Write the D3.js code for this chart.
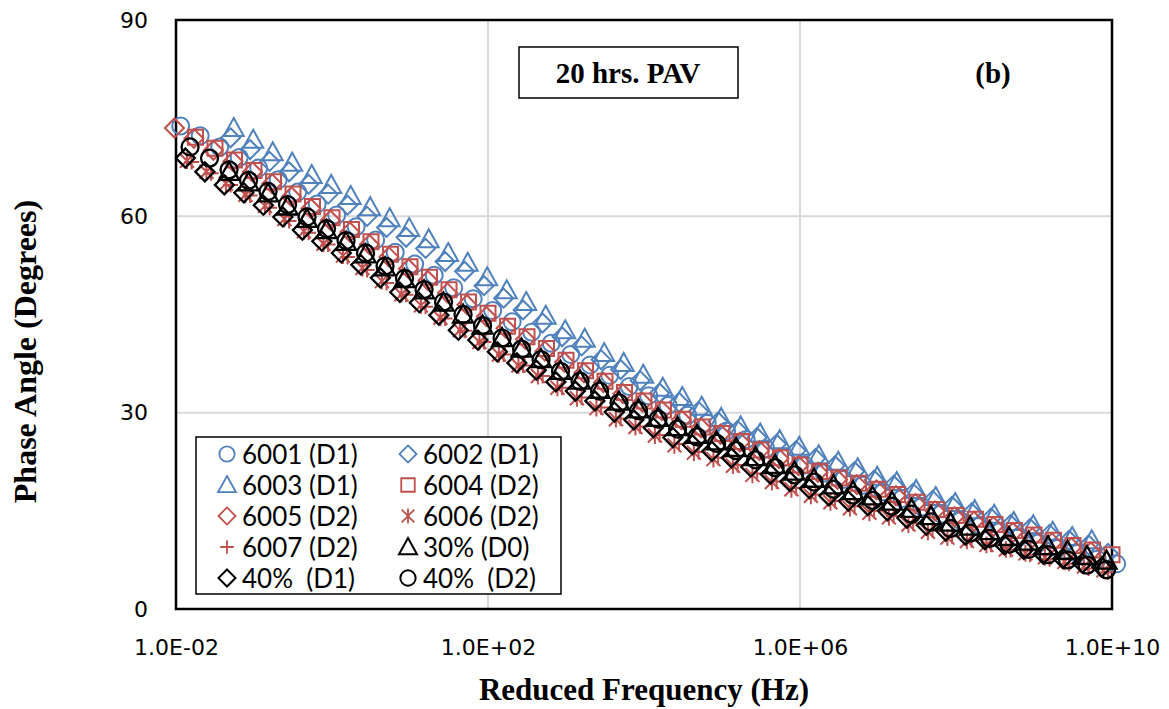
<!DOCTYPE html>
<html>
<head>
<meta charset="utf-8">
<script src="https://cdn.jsdelivr.net/npm/d3@7"></script>
<style>
    body { margin: 0; background: #fff; }
    svg { display: block; }
</style>
</head>
<body>
<div id="chart"></div>
<script>
// log10 of reduced frequency (Hz) and phase angle (degrees) for each binder.
const logF6001 = [-1.94,-1.69,-1.44,-1.19,-0.94,-0.69,-0.44,-0.19,0.06,0.31,0.56,0.81,1.06,1.31,1.56,1.81,2.06,2.31,2.56,2.81,3.06,3.31,3.56,3.81,4.06,4.31,4.56,4.81,5.06,5.31,5.56,5.81,6.06,6.31,6.56,6.81,7.06,7.31,7.56,7.81,8.06,8.31,8.56,8.81,9.06,9.31,9.56,9.81,10.06];
const phase6001 = [73.8,72.3,70.6,69.0,67.4,65.6,63.7,61.9,60.2,58.4,56.4,54.5,52.7,51.0,49.1,47.4,45.6,43.9,42.3,40.6,38.9,37.3,35.7,34.0,32.6,31.1,29.6,28.4,27.2,25.9,24.5,23.2,22.0,20.8,19.8,18.9,17.9,16.9,15.6,14.5,13.5,12.8,11.8,11.0,10.1,9.3,8.5,7.6,6.9];

const logF6002 = [-1.30,-1.05,-0.80,-0.55,-0.30,-0.05,0.20,0.45,0.70,0.95,1.20,1.45,1.70,1.95,2.20,2.45,2.70,2.95,3.20,3.45,3.70,3.95,4.20,4.45,4.70,4.95,5.20,5.45,5.70,5.95,6.20,6.45,6.70,6.95,7.20,7.45,7.70,7.95,8.20,8.45,8.70,8.95,9.20,9.45,9.70,9.95];
const phase6002 = [72.0,70.2,68.4,66.8,64.9,63.4,61.7,60.0,58.3,56.8,55.1,53.1,51.6,49.4,47.5,45.7,43.7,41.6,40.2,38.1,36.6,34.9,33.0,31.6,30.2,28.6,27.3,26.2,25.2,24.2,23.0,21.9,21.0,19.7,18.9,17.7,16.6,15.7,14.7,13.9,12.9,12.3,11.4,10.5,9.8,8.5];

const logF6003 = [-1.26,-1.01,-0.76,-0.51,-0.26,-0.01,0.24,0.49,0.74,0.99,1.24,1.49,1.74,1.99,2.24,2.49,2.74,2.99,3.24,3.49,3.74,3.99,4.24,4.49,4.74,4.99,5.24,5.49,5.74,5.99,6.24,6.49,6.74,6.99,7.24,7.49,7.74,7.99,8.24,8.49,8.74,8.99,9.24,9.49,9.74];
const phase6003 = [73.5,71.7,69.8,68.2,66.3,64.8,63.1,61.4,59.7,58.2,56.5,54.4,52.9,50.7,48.7,46.9,44.8,42.6,41.3,39.1,37.6,35.8,33.8,32.4,30.9,29.2,27.9,26.8,25.8,24.8,23.5,22.5,21.5,20.2,19.4,18.2,17.1,16.2,15.1,14.4,13.3,12.8,11.8,11.0,10.5];

const logF6004 = [-1.75,-1.50,-1.25,-1.00,-0.75,-0.50,-0.25,0.00,0.25,0.50,0.75,1.00,1.25,1.50,1.75,2.00,2.25,2.50,2.75,3.00,3.25,3.50,3.75,4.00,4.25,4.50,4.75,5.00,5.25,5.50,5.75,6.00,6.25,6.50,6.75,7.00,7.25,7.50,7.75,8.00,8.25,8.50,8.75,9.00,9.25,9.50,9.75,10.00];
const phase6004 = [72.1,70.4,68.6,67.0,65.3,63.4,61.5,59.8,58.0,56.1,54.2,52.3,50.7,48.8,46.9,45.2,43.2,41.6,39.8,38.0,36.4,34.8,33.1,31.8,30.4,29.0,27.8,26.8,25.6,24.3,23.1,22.0,21.0,20.0,19.2,18.3,17.5,16.3,15.2,14.3,13.7,12.9,12.0,11.3,10.5,9.7,9.0,8.3];

const logF6005 = [-2.02,-1.77,-1.52,-1.27,-1.02,-0.77,-0.52,-0.27,-0.02,0.23,0.48,0.73,0.98,1.23,1.48,1.73,1.98,2.23,2.48,2.73,2.98,3.23,3.48,3.73,3.98,4.23,4.48,4.73,4.98,5.23,5.48,5.73,5.98,6.23,6.48,6.73,6.98,7.23,7.48,7.73,7.98,8.23,8.48,8.73,8.98,9.23,9.48,9.73];
const phase6005 = [73.5,71.9,70.1,68.4,66.8,65.0,63.0,61.2,59.4,57.6,55.7,53.8,52.0,50.2,48.3,46.5,44.7,42.9,41.2,39.4,37.7,36.1,34.6,32.9,31.6,30.3,28.9,27.7,26.7,25.5,24.2,23.0,21.9,20.9,19.8,19.0,18.2,17.3,16.1,15.0,14.1,13.4,12.6,11.7,10.9,10.1,9.4,8.7];

const logF6006 = [-1.86,-1.61,-1.36,-1.11,-0.86,-0.61,-0.36,-0.11,0.14,0.39,0.64,0.89,1.14,1.39,1.64,1.89,2.14,2.39,2.64,2.89,3.14,3.39,3.64,3.89,4.14,4.39,4.64,4.89,5.14,5.39,5.64,5.89,6.14,6.39,6.64,6.89,7.14,7.39,7.64,7.89,8.14,8.39,8.64,8.89,9.14,9.39,9.64,9.89];
const phase6006 = [68.5,66.8,65.0,63.3,61.6,59.6,57.7,55.8,54.0,52.1,50.1,48.1,46.4,44.5,42.6,40.8,38.9,37.2,35.6,33.8,32.2,30.7,29.0,27.8,26.5,25.0,23.9,22.9,21.9,20.5,19.4,18.3,17.3,16.3,15.4,14.7,14.0,12.9,11.8,10.9,10.4,9.8,9.1,8.5,7.9,7.2,6.5,5.9];

const logF6007 = [-1.80,-1.55,-1.30,-1.05,-0.80,-0.55,-0.30,-0.05,0.20,0.45,0.70,0.95,1.20,1.45,1.70,1.95,2.20,2.45,2.70,2.95,3.20,3.45,3.70,3.95,4.20,4.45,4.70,4.95,5.20,5.45,5.70,5.95,6.20,6.45,6.70,6.95,7.20,7.45,7.70,7.95,8.20,8.45,8.70,8.95,9.20,9.45,9.70,9.95];
const phase6007 = [68.3,66.6,64.8,63.2,61.3,59.3,57.5,55.7,53.8,51.8,49.8,48.0,46.2,44.4,42.5,40.8,38.9,37.2,35.6,33.8,32.3,30.8,29.1,27.9,26.6,25.2,24.0,23.1,22.0,20.7,19.5,18.5,17.5,16.5,15.7,15.0,14.2,13.1,12.0,11.1,10.5,9.8,9.0,8.3,7.6,6.9,6.2,5.6];

const logF30D0 = [-1.32,-1.07,-0.82,-0.57,-0.32,-0.07,0.18,0.43,0.68,0.93,1.18,1.43,1.68,1.93,2.18,2.43,2.68,2.93,3.18,3.43,3.68,3.93,4.18,4.43,4.68,4.93,5.18,5.43,5.68,5.93,6.18,6.43,6.68,6.93,7.18,7.43,7.68,7.93,8.18,8.43,8.68,8.93,9.18,9.43,9.68,9.93];
const phase30D0 = [66.8,65.2,63.5,61.5,59.6,57.9,56.1,54.2,52.2,50.4,48.7,46.8,45.0,43.3,41.4,39.8,38.2,36.4,34.9,33.5,31.7,30.5,29.2,27.8,26.6,25.6,24.6,23.2,22.0,21.0,19.9,18.9,18.0,17.2,16.4,15.3,14.2,13.2,12.6,11.9,11.0,10.3,9.6,8.9,8.1,7.4];

const logF40D1 = [-1.88,-1.63,-1.38,-1.13,-0.88,-0.63,-0.38,-0.13,0.12,0.37,0.62,0.87,1.12,1.37,1.62,1.87,2.12,2.37,2.62,2.87,3.12,3.37,3.62,3.87,4.12,4.37,4.62,4.87,5.12,5.37,5.62,5.87,6.12,6.37,6.62,6.87,7.12,7.37,7.62,7.87,8.12,8.37,8.62,8.87,9.12,9.37,9.62,9.87];
const phase40D1 = [68.9,66.8,64.8,63.6,61.7,59.9,57.9,56.2,54.4,52.6,50.6,48.4,46.8,44.9,42.6,41.1,39.3,37.6,36.5,34.7,33.3,31.8,30.1,28.9,27.7,26.2,25.1,24.1,23.1,21.7,20.6,19.5,18.4,17.3,16.5,15.8,15.0,13.9,12.8,11.9,11.3,10.6,9.8,9.1,8.4,7.7,7.0,6.4];

const logF40D2 = [-1.82,-1.57,-1.32,-1.07,-0.82,-0.57,-0.32,-0.07,0.18,0.43,0.68,0.93,1.18,1.43,1.68,1.93,2.18,2.43,2.68,2.93,3.18,3.43,3.68,3.93,4.18,4.43,4.68,4.93,5.18,5.43,5.68,5.93,6.18,6.43,6.68,6.93,7.18,7.43,7.68,7.93,8.18,8.43,8.68,8.93,9.18,9.43,9.68,9.93];
const phase40D2 = [70.6,68.9,67.1,65.5,63.8,61.8,59.9,58.1,56.3,54.4,52.4,50.5,48.8,46.9,45.0,43.3,41.4,39.7,38.1,36.3,34.8,33.3,31.5,30.3,29.0,27.5,26.3,25.3,24.2,22.8,21.6,20.5,19.4,18.3,17.4,16.6,15.7,14.5,13.3,12.3,11.6,10.8,9.9,9.1,8.3,7.5,6.7,6.0];

const xTicks = [1e-2, 1e2, 1e6, 1e10];
const xTickLabels = ['1.0E-02', '1.0E+02', '1.0E+06', '1.0E+10'];
const yTicks = [0, 30, 60, 90];

const blue = '#4F81BD';
const red = '#C0504D';
const black = '#000000';

const series = [
    { name: '6001 (D1)', logF: logF6001, phase: phase6001, shape: 'circle', color: blue },
    { name: '6002 (D1)', logF: logF6002, phase: phase6002, shape: 'diamond', color: blue },
    { name: '6003 (D1)', logF: logF6003, phase: phase6003, shape: 'triangle', color: blue },
    { name: '6004 (D2)', logF: logF6004, phase: phase6004, shape: 'square', color: red },
    { name: '6005 (D2)', logF: logF6005, phase: phase6005, shape: 'diamond', color: red },
    { name: '6006 (D2)', logF: logF6006, phase: phase6006, shape: 'star', color: red },
    { name: '6007 (D2)', logF: logF6007, phase: phase6007, shape: 'plus', color: red },
    { name: '30% (D0)', logF: logF30D0, phase: phase30D0, shape: 'triangle', color: black },
    { name: '40%  (D1)', logF: logF40D1, phase: phase40D1, shape: 'diamond', color: black },
    { name: '40%  (D2)', logF: logF40D2, phase: phase40D2, shape: 'circle', color: black },
];

const dims = { width: 1169, height: 709, left: 176, right: 1112, top: 20, bottom: 609 };

// Excel style hollow markers, centred on 0,0.
function marker_path(shape, k) {
    if (k === undefined) {
        k = 1;
    }
    const r = 8.5 * k, t = 10 * k, s = 7.5 * k, d = 9.5 * k, a = 7 * k, p = 7.5 * k;
    switch (shape) {
        case 'circle':
            return `M${-r},0a${r},${r} 0 1,0 ${2 * r},0a${r},${r} 0 1,0 ${-2 * r},0`;
        case 'triangle':
            return `M0,${-t}L${t},${t * 0.8}L${-t},${t * 0.8}Z`;
        case 'square':
            return `M${-s},${-s}H${s}V${s}H${-s}Z`;
        case 'diamond':
            return `M0,${-d}L${d},0L0,${d}L${-d},0Z`;
        case 'star':
            return `M${-a},${-a}L${a},${a}M${-a},${a}L${a},${-a}M0,${-a * 1.2}V${a * 1.2}`;
        case 'plus':
            return `M${-p},0H${p}M0,${-p}V${p}`;
    }
}

const svg = d3.select('#chart')
    .append('svg')
    .attr('width', dims.width)
    .attr('height', dims.height);

svg.append('rect')
    .attr('width', dims.width)
    .attr('height', dims.height)
    .attr('fill', '#fff');

const x = d3.scaleLog()
    .domain([1e-2, 1e10])
    .range([dims.left, dims.right]);

const y = d3.scaleLinear()
    .domain([0, 90])
    .range([dims.bottom, dims.top]);

// grid
svg.append('g')
    .selectAll('line')
    .data(xTicks)
    .join('line')
        .attr('x1', (d) => x(d))
        .attr('x2', (d) => x(d))
        .attr('y1', dims.top)
        .attr('y2', dims.bottom)
        .attr('stroke', '#d9d9d9')
        .attr('stroke-width', 2);

svg.append('g')
    .selectAll('line')
    .data(yTicks)
    .join('line')
        .attr('x1', dims.left)
        .attr('x2', dims.right)
        .attr('y1', (d) => y(d))
        .attr('y2', (d) => y(d))
        .attr('stroke', '#d9d9d9')
        .attr('stroke-width', 2);

// axes, labels only
const xAxis = svg.append('g')
    .attr('transform', `translate(0, ${dims.bottom})`)
    .call(d3.axisBottom(x)
        .tickValues(xTicks)
        .tickFormat((d, i) => xTickLabels[i])
        .tickSize(0)
        .tickPadding(30));
xAxis.select('.domain').remove();
xAxis.selectAll('text')
    .attr('fill', '#000')
    .style('font-family', '"DejaVu Sans", Verdana, sans-serif')
    .style('font-size', '22px');

const yAxis = svg.append('g')
    .attr('transform', `translate(${dims.left}, 0)`)
    .call(d3.axisLeft(y)
        .tickValues(yTicks)
        .tickFormat(d3.format('d'))
        .tickSize(0)
        .tickPadding(28));
yAxis.select('.domain').remove();
yAxis.selectAll('text')
    .attr('fill', '#000')
    .style('font-family', '"DejaVu Sans", Verdana, sans-serif')
    .style('font-size', '22px');

// plot frame
svg.append('rect')
    .attr('x', dims.left)
    .attr('y', dims.top)
    .attr('width', dims.right - dims.left)
    .attr('height', dims.bottom - dims.top)
    .attr('fill', 'none')
    .attr('stroke', '#000')
    .attr('stroke-width', 2.5);

// data markers
for (const s of series) {
    svg.append('g')
        .selectAll('path')
        .data(s.logF.map((e, i) => ({ f: Math.pow(10, e), v: s.phase[i] })))
        .join('path')
            .attr('transform', (d) => `translate(${x(d.f)}, ${y(d.v)})`)
            .attr('d', marker_path(s.shape))
            .attr('fill', 'none')
            .attr('stroke', s.color)
            .attr('stroke-width', s.color === black ? 2.3 : 2);
}

// axis titles
const serif = '"Liberation Serif", "Times New Roman", serif';
svg.append('text')
    .attr('x', (dims.left + dims.right) / 2)
    .attr('y', 700)
    .attr('text-anchor', 'middle')
    .style('font-family', serif)
    .style('font-weight', 'bold')
    .style('font-size', '31px')
    .text('Reduced Frequency (Hz)');

svg.append('text')
    .attr('transform', `translate(36, ${(dims.top + dims.bottom) / 2 + 37}) rotate(-90)`)
    .attr('text-anchor', 'middle')
    .style('font-family', serif)
    .style('font-weight', 'bold')
    .style('font-size', '32px')
    .text('Phase Angle (Degrees)');

// annotation box and panel letter
svg.append('rect')
    .attr('x', 519)
    .attr('y', 47)
    .attr('width', 219)
    .attr('height', 51)
    .attr('fill', '#fff')
    .attr('stroke', '#000')
    .attr('stroke-width', 1.5);

svg.append('text')
    .attr('x', 628)
    .attr('y', 83)
    .attr('text-anchor', 'middle')
    .style('font-family', serif)
    .style('font-weight', 'bold')
    .style('font-size', '29px')
    .text('20 hrs. PAV');

svg.append('text')
    .attr('x', 993)
    .attr('y', 83)
    .attr('text-anchor', 'middle')
    .style('font-family', serif)
    .style('font-weight', 'bold')
    .style('font-size', '29px')
    .text('(b)');

// legend
const legend = svg.append('g');
legend.append('rect')
    .attr('x', 196)
    .attr('y', 437)
    .attr('width', 365)
    .attr('height', 157)
    .attr('fill', '#fff')
    .attr('stroke', '#000')
    .attr('stroke-width', 1.5);

const legend_cols = [227, 408];
const legend_rows = [454, 485, 516, 547, 578];

const entries = legend.selectAll('g.entry')
    .data(series)
    .join('g')
        .attr('class', 'entry')
        .attr('transform', (d, i) => `translate(${legend_cols[i % 2]}, ${legend_rows[Math.floor(i / 2)]})`);

entries.append('path')
    .attr('d', (d) => marker_path(d.shape, 0.9))
    .attr('fill', 'none')
    .attr('stroke', (d) => d.color)
    .attr('stroke-width', (d) => d.color === black ? 2 : 1.8);

entries.append('text')
    .attr('x', 15)
    .attr('y', 9.5)
    .attr('xml:space', 'preserve')
    .style('white-space', 'pre')
    .style('font-family', 'Lato, "Open Sans", sans-serif')
    .style('font-size', '26px')
    .text((d) => d.name);
</script>
</body>
</html>
